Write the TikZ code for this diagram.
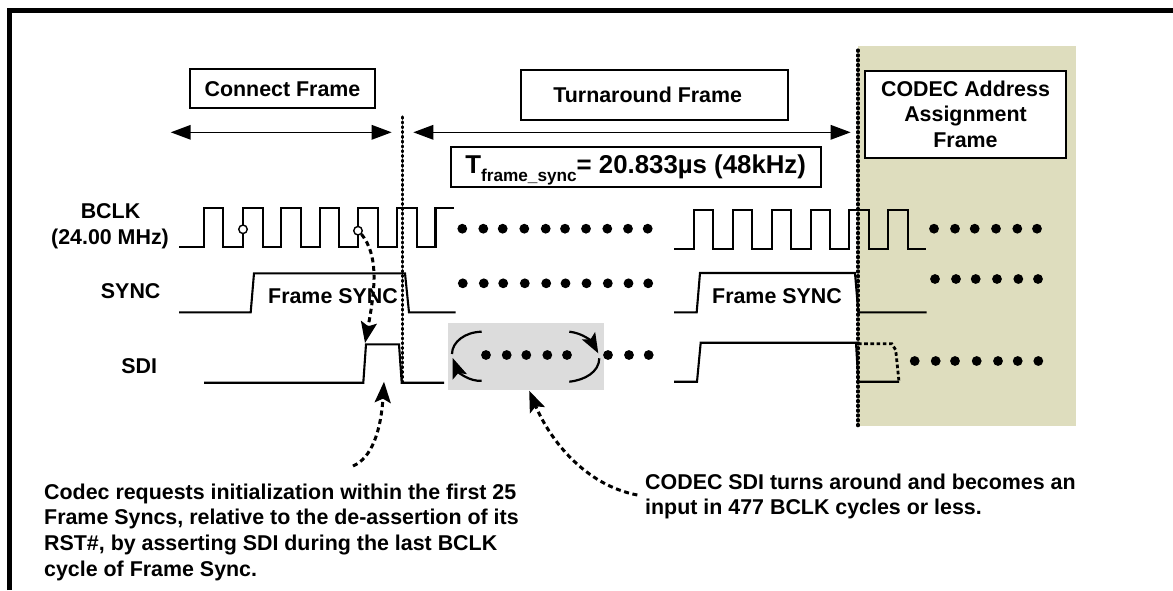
\documentclass[tikz,border=0pt]{standalone}
\usepackage{fontspec}
\setmainfont{Liberation Sans}
\usetikzlibrary{arrows.meta}
\definecolor{tanbg}{HTML}{DEDDBE}
\definecolor{greybg}{HTML}{DCDCDC}
\tikzset{
  txt/.style={font=\bfseries\fontsize{21.4}{25.6}\selectfont,inner sep=0pt,text=black},
  capline/.style={txt,text height=15.2pt,text depth=0pt},
  framebox/.style={txt,draw=black,line width=2pt,fill=white,align=center,text height=15.2pt,text depth=0pt},
  wave/.style={line width=2.1pt,line join=miter,black},
  vdots/.style={line width=3.1pt,dash pattern=on 1.3pt off 3.5pt,line cap=round,black},
  span/.style={line width=1.6pt,{Triangle[length=20pt,width=14.5pt]}-{Triangle[length=20pt,width=14.5pt]}},
  curvedash/.style={line width=3pt,dash pattern=on 5pt off 3.6pt,-{Stealth[length=21pt,width=16pt,inset=4pt]}},
  turnarc/.style={line width=2.2pt},
  turnarcarrow/.style={line width=2.2pt,-{Stealth[length=20pt,width=15pt,inset=4pt]}},
  edgecircle/.style={circle,draw=black,fill=white,line width=1.4pt,minimum size=8.5pt,inner sep=0pt}
}
\begin{document}
\begin{tikzpicture}[x=1pt,y=-1pt]
\useasboundingbox (0,0) rectangle (1173,590);
% backgrounds
\fill[tanbg] (858,46) rectangle (1076,426);
\fill[greybg] (448,323) rectangle (604,390);
% outer frame
\draw[line width=4.8pt,line join=miter] (9.6,590) -- (9.6,10.7) -- (1173,10.7);
% frame name boxes
\node[framebox,minimum width=185pt,minimum height=39pt] (connect) at (282.5,88.8) {Connect Frame};
\node[framebox,minimum width=267pt,minimum height=50pt] (turn) at (654.2,95) {Turnaround Frame\kern13pt};
\node[draw=black,line width=2pt,fill=white,inner sep=0pt,minimum width=370pt,minimum height=40pt,
      font=\bfseries\fontsize{25.8}{30}\selectfont,text height=20pt,text depth=6.8pt] (tbox) at (635.7,166.7)
  {T\raisebox{-8.2pt}{\fontsize{17.2}{20}\selectfont frame\_sync}= 20.833µs (48kHz)};
\node[txt,draw=black,line width=2pt,fill=white,align=center,minimum width=201pt,minimum height=86.7pt] (codec) at (965.5,114.3) {CODEC Address\\Assignment\\Frame};
% span arrows
\coordinate (a1l) at (170.7,132.3); \coordinate (a1r) at (391.7,132.3);
\coordinate (a2l) at (413.3,132.3); \coordinate (a2r) at (850.7,132.3);
\draw[span] (a1l) -- (a1r);
\draw[span] (a2l) -- (a2r);
% labels
\node[capline] (bclk) at (110.5,210.7) {BCLK};
\node[capline] (mhz) at (110,237.3) {(24.00 MHz)};
\node[capline] (sync) at (130.7,291) {SYNC};
\node[capline] (sdi) at (139.3,366) {SDI};
\node[capline] (fs1) at (333,295.7) {Frame SYNC};
\node[capline] (fs2) at (777,295.7) {Frame SYNC};
% BCLK
\draw[wave] (179,247.3) -- (204,247.3) -- (204,208.3) -- (223.3,208.3) -- (223.3,247.3) -- (242.7,247.3) -- (242.7,208.3)
  -- (262.7,208.3) -- (262.7,247.3) -- (281,247.3) -- (281,208.3) -- (301,208.3) -- (301,247.3) -- (320,247.3) -- (320,208.3)
  -- (339,208.3) -- (339,247.3) -- (358,247.3) -- (358,208.3) -- (378,208.3) -- (378,247.3) -- (397,247.3) -- (397,208.3)
  -- (416.7,208.3) -- (416.7,247.3) -- (435.5,247.3) -- (435.5,208.3) -- (454,208.3);
\draw[wave] (674,248.6) -- (694,248.6) -- (694,209.8) -- (713,209.8) -- (713,248.6) -- (732.7,248.6) -- (732.7,209.8)
  -- (752,209.8) -- (752,248.6) -- (771.7,248.6) -- (771.7,209.8) -- (790.7,209.8) -- (790.7,248.6) -- (810.7,248.6) -- (810.7,209.8)
  -- (830,209.8) -- (830,248.6) -- (849,248.6) -- (849,209.8) -- (869,209.8) -- (869,248.6) -- (888,248.6) -- (888,209.8)
  -- (907.7,209.8) -- (907.7,248.6) -- (926,248.6);
% SYNC
\draw[wave] (179,312.3) -- (250.7,312.3) -- (254,273.3) -- (405,273.3) -- (409,312.3) -- (455.7,312.3);
\draw[wave] (674,312.3) -- (696.7,312.3) -- (700,273) -- (855,273) -- (858.3,312.3) -- (926.7,312.3);
% SDI
\draw[wave] (204,382.7) -- (363.3,382.7) -- (366,344.3) -- (399,344.3) -- (401.7,382.7) -- (444,382.7);
\draw[wave] (674,381.7) -- (697,381.7) -- (700.7,342.7) -- (856,342.7) -- (858.3,381.7) -- (899,381.7);
\draw[line width=2.8pt,dash pattern=on 3.6pt off 2.6pt] (858,343.7) -- (891.7,343.7) -- (895.7,350) -- (899,381.7);
% dots
\foreach \x in {462.3,483.3,502.7,524.3,545.7,565,586,607.3,628,647.7} {
  \fill (\x,228.7) circle (4.9pt);
  \fill (\x+0.5,283.3) circle (4.9pt);
}
\foreach \x in {486,506.7,526.3,547.3,567,608,629,648.7} \fill (\x,355) circle (4.9pt);
\foreach \x in {934,955,974.7,996,1017.3,1037} {
  \fill (\x,228.7) circle (4.9pt);
  \fill (\x+1,279) circle (4.9pt);
}
\foreach \x in {914.7,935.7,955,976.7,998,1017.7,1038.3} \fill (\x,361) circle (4.9pt);
% turnaround arcs
\draw[turnarc] (481.7,331.7) .. controls (465,332) and (452,342) .. (452,354);
\draw[turnarcarrow] (481.7,380.7) .. controls (470,382) and (458,372) .. (452.7,358);
\draw[turnarcarrow] (569.3,331.7) .. controls (583,333) and (592,342) .. (598.3,353.3);
\draw[turnarc] (569.3,381.7) .. controls (585,380) and (599,372) .. (599.3,358.3);
% vertical dotted
\coordinate (v1t) at (402.8,117); \coordinate (v1b) at (402.8,383);
\coordinate (v2t) at (858,50); \coordinate (v2b) at (858,427);
\draw[vdots] (v1t) -- (v1b);
\draw[vdots] (v2t) -- (v2b);
% edge markers
\node[edgecircle] (e1) at (243,229.3) {};
\node[edgecircle] (e2) at (358,230.7) {};
% notes
\node[txt,anchor=north west,align=left] (note1) at (44,483.5) {Codec requests initialization within the first 25\\Frame Syncs, relative to the de-assertion of its\\RST\#, by asserting SDI during the last BCLK\\cycle of Frame Sync.};
\node[txt,anchor=north west,align=left] (note2) at (645,473.5) {CODEC SDI turns around and becomes an\\input in 477 BCLK cycles or less.};
% curved dashed arrows
\coordinate (c1t) at (365,343);
\coordinate (c2s) at (353,466); \coordinate (c2t) at (384,381.7);
\coordinate (c3s) at (637.3,495); \coordinate (c3t) at (529.2,390.7);
\draw[curvedash] (e2.south east) .. controls (378,255) and (376,285) .. (c1t);
\draw[curvedash] (c2s) .. controls (372,458) and (381,430) .. (c2t);
\draw[curvedash] (c3s) .. controls (585,485) and (550,440) .. (c3t);
\end{tikzpicture}
\end{document}
